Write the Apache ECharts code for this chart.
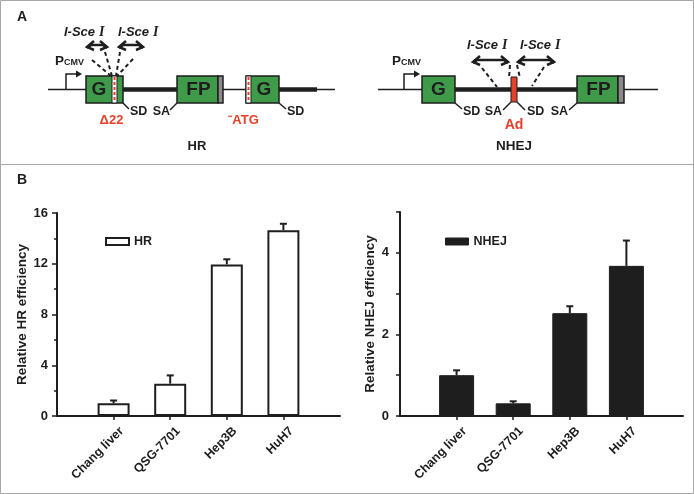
<!DOCTYPE html>
<html><head><meta charset="utf-8">
<script src="https://cdn.jsdelivr.net/npm/echarts@6/dist/echarts.min.js"></script>
<style>html,body{margin:0;padding:0;background:#fff}#c{width:694px;height:494px}</style>
</head><body><div id="c"></div>
<script>
const categories = ['Chang liver', 'QSG-7701', 'Hep3B', 'HuH7'];
const hrMean = [1.0, 2.55, 11.95, 14.65];
const hrErr = [0.22, 0.65, 0.4, 0.5];
const nhejMean = [1.0, 0.31, 2.52, 3.68];
const nhejErr = [0.12, 0.05, 0.17, 0.62];
const hrTicks = [0, 4, 8, 12, 16];
const nhejTicks = [0, 2, 4];

const FONT = '"Liberation Sans", Arial, sans-serif';
const INK = '#1e1e1e';
const GREEN = '#3f9a4a';
const RED = '#e8402a';
const axisCats = [''].concat(categories, ['']);

function ln(x1, y1, x2, y2, w, extra) {
  return {type: 'line', silent: true, shape: {x1, y1, x2, y2}, style: Object.assign({stroke: INK, lineWidth: w}, extra || {})};
}
function pl(points, w, extra) {
  return {type: 'polyline', silent: true, shape: {points}, style: Object.assign({stroke: INK, fill: null, lineWidth: w}, extra || {})};
}
function pg(points, fill) {
  return {type: 'polygon', silent: true, shape: {points}, style: {fill: fill || INK}};
}
function rc(x, y, w, h, fill, stroke, lw) {
  return {type: 'rect', silent: true, shape: {x, y, width: w, height: h}, style: {fill, stroke: stroke || INK, lineWidth: lw == null ? 1.5 : lw}};
}
function tx(t, x, y, size, opts) {
  opts = opts || {};
  return {type: 'text', silent: true, style: {text: t, x, y, fill: opts.fill || INK,
    font: (opts.style || 'normal') + ' bold ' + size + 'px ' + (opts.family || FONT),
    textAlign: opts.align || 'center', textVerticalAlign: opts.valign || 'middle'}};
}
function dblArrow(x1, x2, y) {
  return [
    pl([[x1 + 1, y + 2], [x1 + 5, y - 1], [x2 - 5, y - 1], [x2 - 1, y + 2]], 2.5),
    pl([[x1 + 8, y - 5], [x1 + 1, y + 1], [x1 + 8, y + 4]], 2.5),
    pl([[x2 - 8, y - 5], [x2 - 1, y + 1], [x2 - 8, y + 4]], 2.5)
  ];
}
function isce(x, y) {
  return [
    tx('I-Sce', x, y, 13, {style: 'italic', align: 'left'}),
    tx('I', x + 35, y, 14, {style: 'italic', align: 'left', family: '"Liberation Serif", serif'})
  ];
}
function pcmv(x, y) {
  return [tx('P', x, y, 13.5, {align: 'left'}), tx('CMV', x + 9, y + 2, 9, {align: 'left'})];
}
function promoter(x, y0, y1, xe) {
  return [pl([[x, y0], [x, y1], [xe - 3, y1]], 1.5), pg([[xe + 1, y1], [xe - 5, y1 - 3.5], [xe - 5, y1 + 3.5]])];
}
function stripe(x, y, h) {
  return [rc(x, y, 5, h, '#fff', INK, 1), ln(x + 2.5, y + 1, x + 2.5, y + h - 1, 2, {stroke: RED, lineDash: [3, 2]})];
}
const dash = {lineDash: [4, 3]};

const graphics = [
  rc(0.5, 0.5, 693, 493, null, '#a8a8a8', 1),
  ln(0, 164.5, 694, 164.5, 1, {stroke: '#a8a8a8'}),
  tx('A', 17, 17, 14, {align: 'left'}),
  tx('B', 17, 180, 14, {align: 'left'}),
  // ---- HR construct ----
  ln(48, 89.5, 335, 89.5, 1.5),
  ln(122, 89.5, 177, 89.5, 4.5),
  ln(279, 89.5, 317, 89.5, 4.5),
  ...promoter(66, 89.5, 74, 81),
  ...pcmv(55, 61),
  rc(86, 76, 37, 27, GREEN),
  ...stripe(112, 76, 27),
  tx('G', 99, 90, 19),
  rc(177, 76, 41, 27, GREEN),
  rc(218, 76, 5, 27, '#8a8a8a'),
  tx('FP', 198.5, 90, 19),
  rc(246, 76, 33, 27, GREEN),
  ...stripe(246, 76, 27),
  tx('G', 264, 90, 19),
  ln(123, 103, 129, 109, 1.5),
  tx('SD', 130, 112, 12.5, {align: 'left'}),
  tx('SA', 170, 112, 12.5, {align: 'right'}),
  ln(170, 110, 177, 103, 1.5),
  ln(279, 103, 286, 109, 1.5),
  tx('SD', 287, 112, 12.5, {align: 'left'}),
  tx('Δ22', 111.5, 120, 13, {fill: RED}),
  tx('\u207BATG', 243.5, 120, 13, {fill: RED}),
  tx('HR', 197, 146, 13),
  ...isce(64, 32),
  ...isce(118, 32),
  ...dblArrow(86, 108, 46),
  ...dblArrow(118, 144, 46),
  ln(92, 60, 111, 76, 2, dash),
  ln(105, 52, 112, 76, 2, dash),
  ln(120, 52, 116, 76, 2, dash),
  ln(133, 59, 117, 76, 2, dash),
  // ---- NHEJ construct ----
  ln(378, 89.5, 658, 89.5, 1.5),
  ln(455, 89.5, 577, 89.5, 4.5),
  ...promoter(404, 89.5, 74, 419),
  ...pcmv(392, 61),
  rc(422, 76, 33, 27, GREEN),
  tx('G', 438.5, 90, 19),
  rc(511, 77, 6, 25, RED, INK, 1),
  rc(577, 76, 41, 27, GREEN),
  rc(618, 76, 6, 27, '#8a8a8a'),
  tx('FP', 598.5, 90, 19),
  ln(455, 103, 462, 109, 1.5),
  tx('SD', 463, 112, 12.5, {align: 'left'}),
  tx('SA', 502, 112, 12.5, {align: 'right'}),
  ln(503, 110, 511, 102, 1.5),
  ln(517, 102, 525, 110, 1.5),
  tx('SD', 527, 112, 12.5, {align: 'left'}),
  tx('SA', 568, 112, 12.5, {align: 'right'}),
  ln(569, 110, 577, 103, 1.5),
  tx('Ad', 514, 125, 14, {fill: RED}),
  tx('NHEJ', 514, 146, 13.5),
  ...isce(467, 45),
  ...isce(520, 45),
  ...dblArrow(472, 509, 61),
  ...dblArrow(517, 555, 61),
  ln(482, 68, 497, 87, 2, dash),
  ln(510, 65, 509, 78, 2, dash),
  ln(517, 65, 520, 78, 2, dash),
  ln(544, 67, 532, 86, 2, dash)
];

function errRender(params, api) {
  const x = api.value(0), v = api.value(1), e = api.value(2);
  const p0 = api.coord([x, v]);
  const p1 = api.coord([x, v + e]);
  const s = {stroke: INK, lineWidth: 2};
  return {type: 'group', children: [
    {type: 'line', shape: {x1: p0[0], y1: p0[1], x2: p1[0], y2: p1[1]}, style: s},
    {type: 'line', shape: {x1: p1[0] - 3.5, y1: p1[1], x2: p1[0] + 3.5, y2: p1[1]}, style: s}
  ]};
}

function xAx(gi) {
  return {
    type: 'category', gridIndex: gi, data: axisCats, boundaryGap: false,
    axisLine: {lineStyle: {color: INK, width: 2}},
    axisTick: {length: 4, lineStyle: {color: INK, width: 1.5},
      interval: (i) => i >= 1 && i <= categories.length},
    axisLabel: {interval: 0, rotate: 45, margin: 5, verticalAlign: 'top', padding: [5, 0, 0, 0],
      color: INK, fontFamily: FONT, fontWeight: 'bold', fontSize: 12.5}
  };
}

const hrErrData = categories.map((c, i) => [i + 1, hrMean[i], hrErr[i]]);
const nhejErrData = categories.map((c, i) => [i + 1, nhejMean[i], nhejErr[i]]);

const option = {
  animation: false,
  backgroundColor: '#fff',
  graphic: {elements: graphics},
  grid: [
    {left: 57, right: 354, top: 213, bottom: 78},
    {left: 400, right: 11, top: 212, bottom: 78}
  ],
  legend: [
    {data: ['HR'], left: 100, top: 230, itemWidth: 23, itemHeight: 7, itemGap: 5, icon: 'rect',
      itemStyle: {color: '#fff', borderColor: INK, borderWidth: 2},
      textStyle: {color: INK, fontFamily: FONT, fontWeight: 'bold', fontSize: 12.5}},
    {data: ['NHEJ'], left: 440, top: 230, itemWidth: 23, itemHeight: 7, itemGap: 5, icon: 'rect',
      itemStyle: {color: INK, borderColor: INK, borderWidth: 1},
      textStyle: {color: INK, fontFamily: FONT, fontWeight: 'bold', fontSize: 12.5}}
  ],
  xAxis: [xAx(0), xAx(1)],
  yAxis: [
    {type: 'value', gridIndex: 0, min: 0, max: hrTicks[hrTicks.length - 1], interval: 4,
      name: 'Relative HR efficiency', nameLocation: 'middle', nameGap: 26,
      nameTextStyle: {color: INK, fontFamily: FONT, fontWeight: 'bold', fontSize: 13.5},
      axisLine: {show: true, lineStyle: {color: INK, width: 2}},
      axisTick: {show: true, length: 5, lineStyle: {color: INK, width: 1.5}},
      minorTick: {show: true, splitNumber: 2, length: 3, lineStyle: {color: INK, width: 1.5}},
      splitLine: {show: false},
      axisLabel: {margin: 9, color: INK, fontFamily: FONT, fontWeight: 'bold', fontSize: 13,
        formatter: (v) => hrTicks.indexOf(v) >= 0 ? String(v) : ''}},
    {type: 'value', gridIndex: 1, min: 0, max: 5, interval: 1,
      name: 'Relative NHEJ efficiency', nameLocation: 'middle', nameGap: 23,
      nameTextStyle: {color: INK, fontFamily: FONT, fontWeight: 'bold', fontSize: 13.5},
      axisLine: {show: true, lineStyle: {color: INK, width: 2}},
      axisTick: {show: true, length: 4, lineStyle: {color: INK, width: 1.5}},
      splitLine: {show: false},
      axisLabel: {margin: 11, color: INK, fontFamily: FONT, fontWeight: 'bold', fontSize: 13,
        formatter: (v) => nhejTicks.indexOf(v) >= 0 ? String(v) : ''}}
  ],
  series: [
    {type: 'custom', name: 'hrErr', xAxisIndex: 0, yAxisIndex: 0, renderItem: errRender, data: hrErrData, z: 1},
    {type: 'bar', name: 'HR', xAxisIndex: 0, yAxisIndex: 0, barWidth: 32,
      itemStyle: {color: '#fff', borderColor: INK, borderWidth: 2},
      data: ['-'].concat(hrMean, ['-']), z: 2},
    {type: 'custom', name: 'nhejErr', xAxisIndex: 1, yAxisIndex: 1, renderItem: errRender, data: nhejErrData, z: 1},
    {type: 'bar', name: 'NHEJ', xAxisIndex: 1, yAxisIndex: 1, barWidth: 35,
      itemStyle: {color: INK, borderColor: INK, borderWidth: 1},
      data: ['-'].concat(nhejMean, ['-']), z: 2}
  ]
};
const chart = echarts.init(document.getElementById('c'), null, {renderer: 'canvas'});
chart.setOption(option);
</script>
</body></html>
